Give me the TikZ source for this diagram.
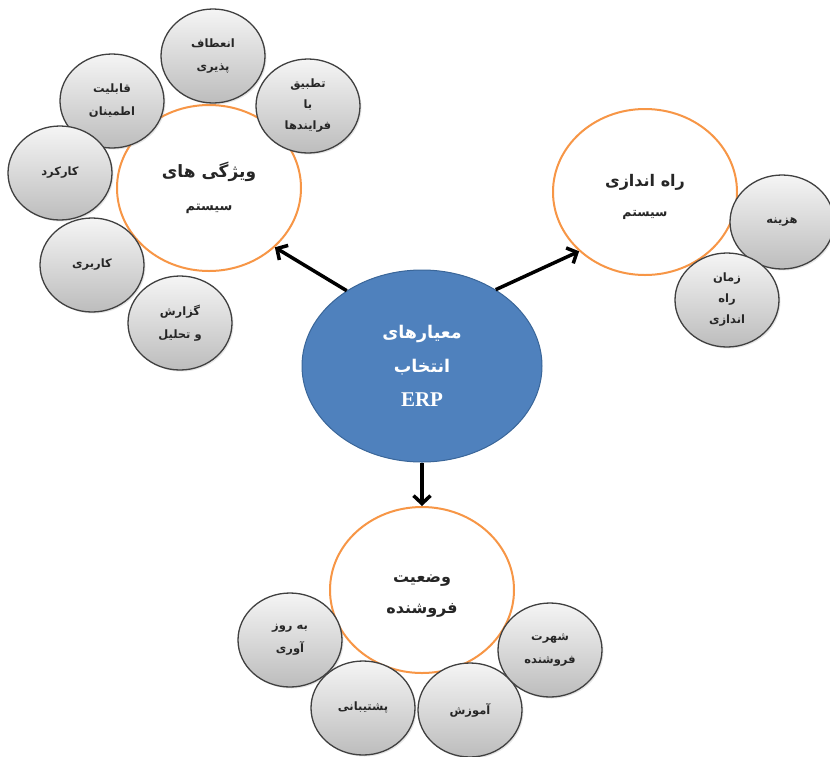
\documentclass[tikz,border=0pt]{standalone}
\usepackage{fontspec}
\setmainfont{Liberation Serif}
\newfontfamily\farsifont[Script=Arabic]{DejaVu Sans}
\TeXXeTstate=1
\usetikzlibrary{shapes.geometric,arrows.meta,shadows}
\newcommand\fatxt[1]{\beginR #1\endR}
\definecolor{erpblue}{HTML}{4F81BD}
\definecolor{erpblueedge}{HTML}{3A6699}
\definecolor{erporange}{HTML}{F79646}
\definecolor{grayedge}{HTML}{404040}
\tikzset{
  graynode/.style={ellipse, draw=grayedge, line width=1.3pt,
    top color=white!96!black, bottom color=white!74!black,
    minimum width=104pt, minimum height=94pt, inner sep=0pt, align=center,
    font=\farsifont\bfseries\fontsize{11.5}{23}\selectfont, text=black!85,
    drop shadow={opacity=0.2, shadow xshift=1.5pt, shadow yshift=-1.5pt}},
  orangenode/.style={ellipse, draw=erporange, line width=2pt, fill=white,
    minimum width=184pt, minimum height=166pt, inner sep=0pt, align=center,
    text=black!85},
  bluenode/.style={ellipse, draw=erpblueedge, line width=1pt, fill=erpblue,
    minimum width=240pt, minimum height=192pt, inner sep=0pt, align=center,
    text=white},
  bigarrow/.style={line width=3.5pt, black, -{Straight Barb[length=8pt,width=17pt,line width=3.5pt]}},
  bigfa/.style={font=\farsifont\bfseries\fontsize{16}{31}\selectfont, text=black!85, align=center},
  impltext/.style={font=\farsifont\bfseries\fontsize{16}{30}\selectfont, text=black!85, align=center},
}
\begin{document}
\begin{tikzpicture}[x=1pt,y=1pt]
\useasboundingbox (0,0) rectangle (830,-756);
\fill[white] (0,0) rectangle (830,-756);

% main criteria circles
\node[orangenode, font=\farsifont\bfseries\fontsize{17}{33}\selectfont] (sys) at (209,-188)
  {\fatxt{ویژگی های}\\
   \fontsize{13}{33}\selectfont\fatxt{سیستم}};
\node[orangenode, label={[impltext, yshift=-5pt]center:{\fatxt{راه اندازی}\\
   \fontsize{12.5}{30}\selectfont\fatxt{سیستم}}}] (impl) at (645,-192) {};
\node[orangenode, label={[bigfa, yshift=-6pt]center:{\fatxt{وضعیت}\\\fatxt{فروشنده}}}] (vend) at (422,-590) {};

% centre
\node[bluenode, font=\farsifont\bfseries\fontsize{17.5}{34}\selectfont] (erp) at (422,-366)
  {\fatxt{معیارهای}\\\fatxt{انتخاب}\\
   \rmfamily\bfseries\fontsize{21}{34}\selectfont ERP};

% system features
\node[graynode] (flex) at (213,-56) {\fatxt{انعطاف}\\\fatxt{پذیری}};
\node[graynode, font=\farsifont\bfseries\fontsize{11.5}{21}\selectfont] (fit) at (308,-106) {\fatxt{تطبیق}\\\fatxt{با}\\\fatxt{فرایندها}};
\node[graynode] (rel) at (112,-101) {\fatxt{قابلیت}\\\fatxt{اطمینان}};
\node[graynode] (func) at (60,-173) {\fatxt{کارکرد}};
\node[graynode] (use) at (92,-265) {\fatxt{کاربری}};
\node[graynode] (rep) at (180,-323) {\fatxt{گزارش}\\\fatxt{و تحلیل}};

% implementation
\node[graynode] (cost) at (782,-222) {\fatxt{هزینه}};
\node[graynode, font=\farsifont\bfseries\fontsize{11.5}{21}\selectfont] (time) at (727,-300) {\fatxt{زمان}\\\fatxt{راه}\\\fatxt{اندازی}};

% vendor
\node[graynode] (upd) at (290,-640) {\fatxt{به روز}\\\fatxt{آوری}};
\node[graynode] (sup) at (363,-708) {\fatxt{پشتیبانی}};
\node[graynode] (train) at (470,-710) {\fatxt{آموزش}};
\node[graynode] (fame) at (550,-650) {\fatxt{شهرت}\\\fatxt{فروشنده}};

% arrows
\draw[bigarrow] (erp.135) -- (sys.-42);
\draw[bigarrow] (erp.46) -- (impl.222);
\draw[bigarrow] (erp.-90) -- (vend.90);
\end{tikzpicture}
\end{document}
